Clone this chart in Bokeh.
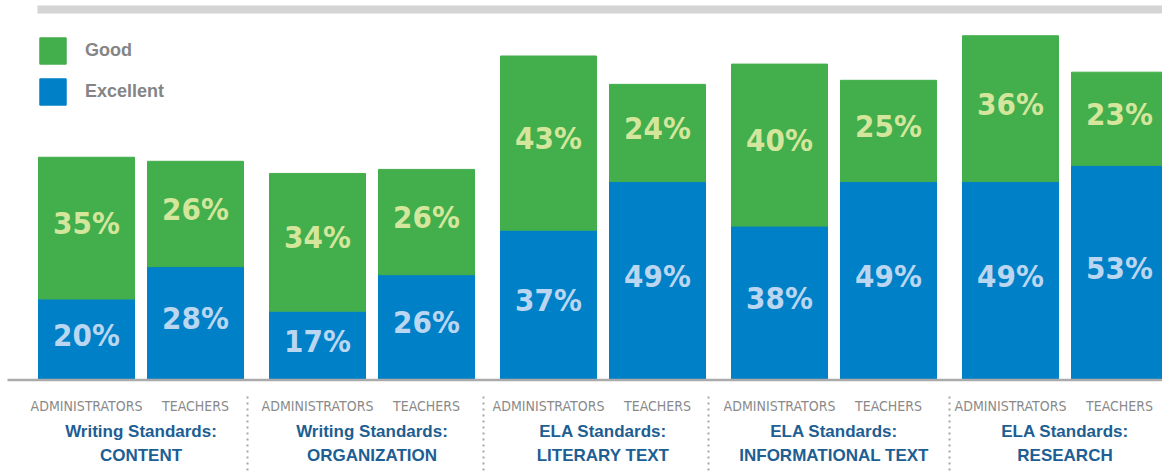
from bokeh.plotting import figure
from bokeh.models import ColumnDataSource, Range1d, Legend, LegendItem
from bokeh.core.properties import value
from bokeh.embed import file_html
from bokeh.resources import INLINE

# ---------------- data ----------------
group_line1 = ["Writing Standards:", "Writing Standards:", "ELA Standards:", "ELA Standards:", "ELA Standards:"]
group_line2 = ["CONTENT", "ORGANIZATION", "LITERARY TEXT", "INFORMATIONAL TEXT", "RESEARCH"]
roles = ["ADMINISTRATORS", "TEACHERS"]
excellent = [20, 28, 17, 26, 37, 49, 38, 49, 49, 53]
good = [35, 26, 34, 26, 43, 24, 40, 25, 36, 23]

# ---------------- style / layout ----------------
W, H = 1162, 471
GREEN = "#42AE4C"
BLUE = "#0080C6"
GREEN_TXT = "#D4E69C"
BLUE_TXT = "#BAD6F0"
GRAY_TXT = "#8A8A8A"
NAVY = "#1D5E93"
NARROW = "DejaVu Sans Condensed"
SANS = "Liberation Sans"

PX = 4.05           # pixels per percentage point
BASE_PX = 379.5     # pixel row of the zero line
X0, BAR_PITCH, GROUP_PITCH, BAR_W = 86, 109, 231, 96
LBL_SHIFT = 5 / PX  # lift value labels a little (data units)


def py(px):
    """pixel row (from top) -> data y"""
    return (BASE_PX - px) / PX


p = figure(width=W, height=H, output_backend="svg", toolbar_location=None,
           x_range=Range1d(0, W), y_range=Range1d(py(H), py(0)),
           x_axis_location=None, y_axis_location=None,
           min_border=0, min_border_left=0, min_border_right=0,
           min_border_top=0, min_border_bottom=0,
           outline_line_color=None, background_fill_color="white",
           border_fill_color="white")
p.xgrid.visible = False
p.ygrid.visible = False

n_groups = len(group_line1)
xs, role_lbl = [], []
for g in range(n_groups):
    for r, role in enumerate(roles):
        xs.append(X0 + g * GROUP_PITCH + r * BAR_PITCH)
        role_lbl.append(role)

src = ColumnDataSource(dict(
    x=xs, excellent=excellent, good=good, role=role_lbl,
    exc_txt=[f"{v}%" for v in excellent],
    good_txt=[f"{v}%" for v in good],
    exc_y=[v / 2 + LBL_SHIFT for v in excellent],
    good_y=[e + gd / 2 + LBL_SHIFT for e, gd in zip(excellent, good)],
))

# top gray band
p.quad(left=[37], right=[W], bottom=[py(13)], top=[py(5)],
       fill_color="#D4D4D4", line_color=None)

rs = p.vbar_stack(["excellent", "good"], x="x", width=BAR_W, source=src,
                  fill_color=[BLUE, GREEN], line_color=[BLUE, GREEN])
r_exc, r_good = rs

# baseline
p.segment(x0=[7], x1=[W], y0=[0], y1=[0], line_color="#ABABAB", line_width=2.5)

# value labels
p.text(x="x", y="exc_y", text="exc_txt", source=src, text_align="center",
       text_baseline="middle", text_color=BLUE_TXT, text_font=value(NARROW),
       text_font_size="31px", text_font_style="bold")
p.text(x="x", y="good_y", text="good_txt", source=src, text_align="center",
       text_baseline="middle", text_color=GREEN_TXT, text_font=value(NARROW),
       text_font_size="31px", text_font_style="bold")

# role labels
p.text(x="x", y=py(405), text="role", source=src, text_align="center",
       text_baseline="alphabetic", text_color=GRAY_TXT, text_font=value(NARROW),
       text_font_size="14px")

# group labels
gx = [X0 + g * GROUP_PITCH + BAR_PITCH / 2 for g in range(n_groups)]
gsrc = ColumnDataSource(dict(x=gx, l1=group_line1, l2=group_line2))
p.text(x="x", y=py(431), text="l1", source=gsrc, text_align="center",
       text_baseline="alphabetic", text_color=NAVY, text_font=value(SANS),
       text_font_size="17px", text_font_style="bold")
p.text(x="x", y=py(455), text="l2", source=gsrc, text_align="center",
       text_baseline="alphabetic", text_color=NAVY, text_font=value(SANS),
       text_font_size="17px", text_font_style="bold")

# dotted separators
SEP_X = [247, 483, 708, 949]
p.segment(x0=SEP_X, x1=SEP_X, y0=[py(396)] * 4, y1=[py(471)] * 4,
          line_color="#A6A6A6", line_width=2, line_dash="2 4")

legend = Legend(items=[LegendItem(label="Good", renderers=[r_good]),
                       LegendItem(label="Excellent", renderers=[r_exc])],
                location=(36, H - 108), orientation="vertical",
                glyph_width=33, glyph_height=33, label_height=33,
                spacing=8, padding=0, margin=0, label_standoff=16,
                border_line_color=None, background_fill_alpha=0,
                label_text_font=SANS, label_text_font_size="18px",
                label_text_font_style="bold", label_text_color="#858585")
p.add_layout(legend)

open("out.html", "w").write(file_html(p, INLINE))
